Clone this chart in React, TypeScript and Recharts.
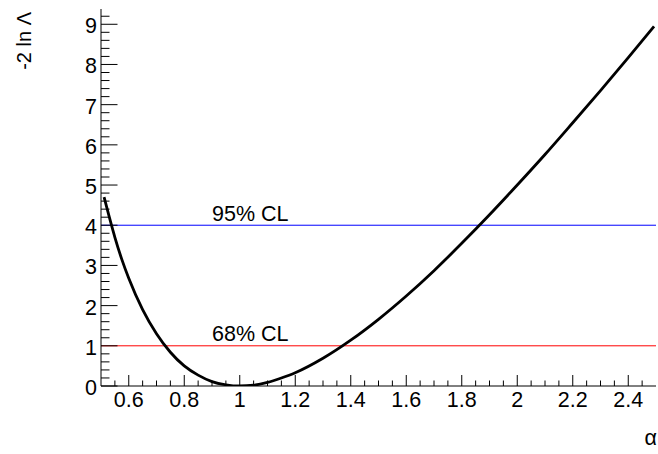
import { LineChart, Line, XAxis, YAxis, ReferenceLine } from "recharts";

// -2 ln Lambda profile
const ALPHA = [
  0.511, 0.53, 0.55, 0.575, 0.6, 0.65, 0.7, 0.75, 0.8, 0.85, 0.9, 0.95, 1.0,
  1.05, 1.1, 1.15, 1.2, 1.3, 1.4, 1.5, 1.6, 1.7, 1.8, 1.9, 2.0, 2.1, 2.2, 2.3,
  2.4, 2.493,
];
const NLL = [
  4.7, 4.2, 3.7, 3.15, 2.68, 1.9, 1.3, 0.84, 0.5, 0.27, 0.11, 0.03, 0.0,
  0.02, 0.09, 0.2, 0.33, 0.69, 1.14, 1.66, 2.24, 2.87, 3.55, 4.26, 5.0, 5.76,
  6.55, 7.35, 8.17, 8.95,
];

const CL_LEVELS = [1, 4];
const CL_LABELS = ["68% CL", "95% CL"];
const CL_COLORS = ["#ff0000", "#0000ff"];

const X_LABELS = [0.6, 0.8, 1, 1.2, 1.4, 1.6, 1.8, 2, 2.2, 2.4];
const Y_LABELS = [0, 1, 2, 3, 4, 5, 6, 7, 8, 9];

// minor ticks every 0.05 on x, 0.2 on y
const X_TICKS = Array.from({ length: 39 }, (_, i) => Math.round((0.55 + i * 0.05) * 100) / 100);
const Y_TICKS = Array.from({ length: 47 }, (_, i) => Math.round(i * 0.2 * 10) / 10);

const data = ALPHA.map((a, i) => ({ a, v: NLL[i] }));

const FONT = "'Liberation Sans', Arial, Helvetica, sans-serif";
const FS = 21.5;

const isMajorX = (v: number) => X_LABELS.some((m) => Math.abs(m - v) < 1e-6);
const isMajorY = (v: number) => Y_LABELS.some((m) => Math.abs(m - v) < 1e-6);
const fmt = (v: number) => String(Number(v.toFixed(1)));

function BottomTick(props: any) {
  const { x, y, payload } = props;
  const major = isMajorX(payload.value);
  return (
    <g>
      <line x1={x} x2={x} y1={y} y2={y - (major ? 11 : 5.5)} stroke="#000" />
      {major && (
        <text x={x} y={y + 20.5} textAnchor="middle" fontFamily={FONT} fontSize={FS} fill="#000">
          {fmt(payload.value)}
        </text>
      )}
    </g>
  );
}

function TopTick(props: any) {
  const { x, y, payload } = props;
  const major = isMajorX(payload.value);
  return <line x1={x} x2={x} y1={y} y2={y + (major ? 11 : 5.5)} stroke="#000" />;
}

function LeftTick(props: any) {
  const { x, y, payload } = props;
  const major = isMajorY(payload.value);
  return (
    <g>
      <line x1={x} x2={x + (major ? 16.5 : 8.5)} y1={y} y2={y} stroke="#000" />
      {major && (
        <text x={x - 4} y={y + 9} textAnchor="end" fontFamily={FONT} fontSize={FS} fill="#000">
          {fmt(payload.value)}
        </text>
      )}
    </g>
  );
}

function RightTick(props: any) {
  const { x, y, payload } = props;
  const major = isMajorY(payload.value);
  return <line x1={x} x2={x - (major ? 15.5 : 7.5)} y1={y} y2={y} stroke="#000" />;
}

export default function App() {
  return (
    <div style={{ position: "absolute", left: 0, top: 0, width: 658, height: 454, background: "#fff" }}>
      <LineChart
        width={658}
        height={454}
        data={data}
        margin={{ top: 9, right: 2, bottom: 38, left: 61 }}
      >
        <XAxis
          dataKey="a"
          type="number"
          domain={[0.5, 2.5]}
          allowDataOverflow
          ticks={X_TICKS}
          interval={0}
          height={30}
          tickSize={0}
          tickMargin={0}
          tickLine={false}
          tick={BottomTick}
          axisLine={{ stroke: "#000" }}
        />
        <XAxis
          xAxisId="top"
          orientation="top"
          dataKey="a"
          type="number"
          domain={[0.5, 2.5]}
          allowDataOverflow
          ticks={X_TICKS}
          interval={0}
          height={0}
          tickSize={0}
          tickMargin={0}
          tickLine={false}
          tick={TopTick}
          axisLine={{ stroke: "#000" }}
        />
        <YAxis
          type="number"
          domain={[0, 9.38]}
          allowDataOverflow
          ticks={Y_TICKS}
          interval={0}
          width={40}
          tickSize={0}
          tickMargin={0}
          tickLine={false}
          tick={LeftTick}
          axisLine={{ stroke: "#000" }}
        />
        <YAxis
          yAxisId="right"
          orientation="right"
          type="number"
          domain={[0, 9.38]}
          allowDataOverflow
          ticks={Y_TICKS}
          interval={0}
          width={0}
          tickSize={0}
          tickMargin={0}
          tickLine={false}
          tick={RightTick}
          axisLine={{ stroke: "#000" }}
        />
        {CL_LEVELS.map((lvl, i) => (
          <ReferenceLine
            key={lvl}
            y={lvl}
            stroke={CL_COLORS[i]}
            strokeWidth={1}
            label={(p: any) => (
              <text
                x={p.viewBox.x + p.viewBox.width * 0.2}
                y={p.viewBox.y - 4.5}
                fontFamily={FONT}
                fontSize={FS}
                fill="#000"
              >
                {CL_LABELS[i]}
              </text>
            )}
          />
        ))}
        <Line
          type="monotone"
          dataKey="v"
          stroke="#000"
          strokeWidth={2.8}
          dot={false}
          isAnimationActive={false}
        />
      </LineChart>
      <svg
        width={658}
        height={454}
        style={{ position: "absolute", left: 0, top: 0, pointerEvents: "none" }}
      >
        <text
          transform="translate(31,12) rotate(-90)"
          textAnchor="end"
          fontFamily={FONT}
          fontSize={20}
          fill="#000"
        >
          -2 ln Λ
        </text>
        <text x={657} y={445} textAnchor="end" fontFamily={FONT} fontSize={FS} fill="#000">
          α
        </text>
      </svg>
    </div>
  );
}
